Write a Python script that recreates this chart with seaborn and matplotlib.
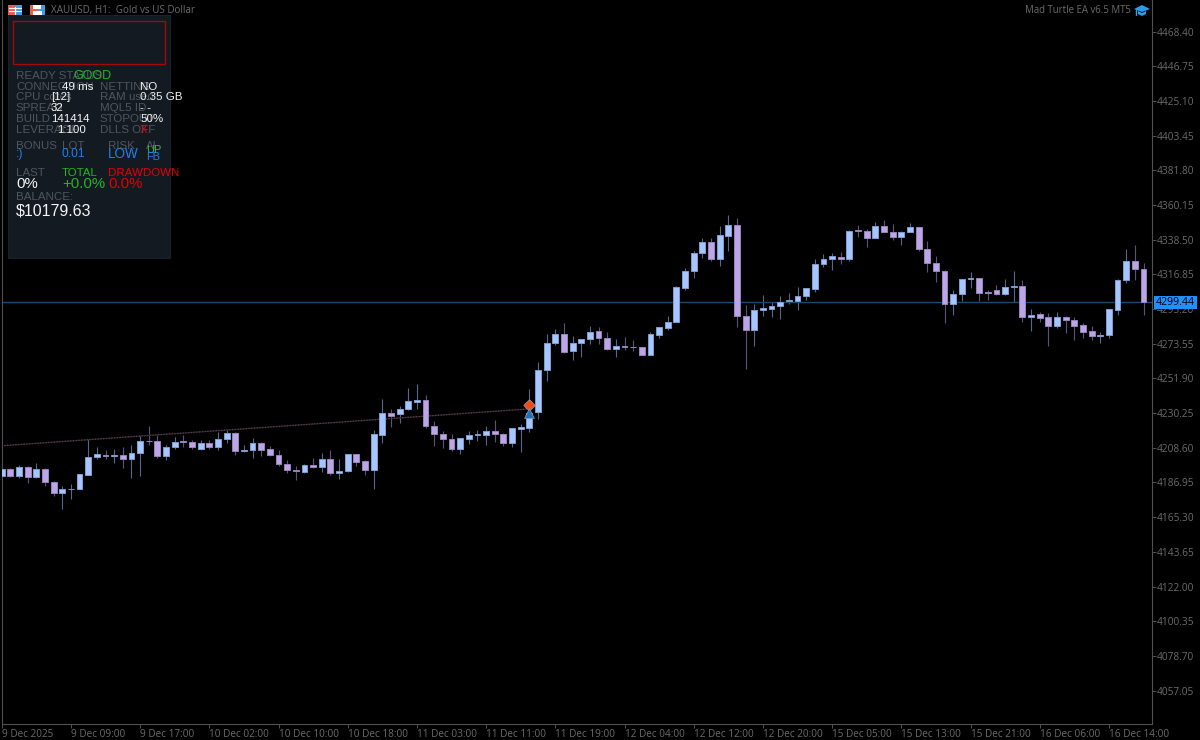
import matplotlib
matplotlib.use("Agg")
import matplotlib.pyplot as plt
from matplotlib.patches import Rectangle, Polygon
import numpy as np
import pandas as pd
import seaborn as sns

# H1 candles
opens = [
    4190.9, 4195.2, 4191.3, 4196.5, 4190.2, 4195.2, 4187.3, 4180.5, 4182.6, 4182.8,
    4191.9, 4203.1, 4204.4, 4203.6, 4204.4, 4201.7, 4205.4, 4213.1, 4212.9, 4203.4,
    4209.2, 4212.7, 4212.3, 4208.1, 4211.3, 4208.8, 4214.2, 4217.7, 4206.7, 4207.3,
    4211.9, 4207.7, 4204.0, 4198.6, 4195.0, 4193.6, 4197.9, 4196.9, 4201.5, 4193.0,
    4194.0, 4205.0, 4200.2, 4194.6, 4216.9, 4230.4, 4229.4, 4232.7, 4237.5, 4238.7,
    4222.5, 4217.5, 4214.0, 4208.1, 4214.4, 4216.3, 4216.9, 4219.4, 4217.5, 4211.7,
    4220.6, 4221.2, 4230.9, 4256.9, 4273.9, 4279.5, 4268.9, 4273.9, 4276.6, 4281.2,
    4277.0, 4270.2, 4272.0, 4271.6, 4271.4, 4266.8, 4279.3, 4283.3, 4287.4, 4308.6,
    4318.8, 4330.4, 4337.1, 4326.3, 4341.0, 4347.7, 4291.1, 4282.4, 4294.9, 4295.5,
    4297.2, 4300.1, 4300.5, 4303.2, 4308.0, 4323.2, 4326.7, 4327.9, 4326.5, 4344.4,
    4344.2, 4339.6, 4347.3, 4343.5, 4340.4, 4343.3, 4346.2, 4332.8, 4324.0, 4319.0,
    4298.2, 4304.9, 4313.8, 4314.7, 4305.7, 4306.8, 4304.9, 4308.8, 4309.7, 4290.5,
    4292.0, 4290.1, 4284.7, 4290.3, 4288.2, 4285.1, 4281.2, 4278.1, 4278.9, 4294.9,
    4313.4, 4325.3, 4320.5,
]
highs = [
    4196.0, 4196.0, 4197.9, 4197.1, 4199.4, 4196.0, 4187.8, 4184.6, 4186.3, 4192.5,
    4214.2, 4209.2, 4207.1, 4208.1, 4209.2, 4210.6, 4216.9, 4221.9, 4216.9, 4210.4,
    4215.2, 4216.5, 4213.6, 4213.3, 4213.3, 4218.3, 4219.6, 4218.3, 4210.4, 4215.0,
    4212.3, 4209.8, 4207.1, 4201.3, 4197.3, 4198.4, 4202.5, 4205.6, 4207.5, 4201.7,
    4205.0, 4205.0, 4201.3, 4219.6, 4239.1, 4233.1, 4234.6, 4245.8, 4248.3, 4241.4,
    4225.4, 4219.4, 4217.1, 4214.8, 4219.2, 4220.0, 4221.9, 4226.2, 4217.9, 4221.0,
    4223.7, 4245.0, 4262.1, 4279.5, 4282.9, 4286.6, 4278.5, 4276.6, 4284.7, 4284.1,
    4281.0, 4276.6, 4277.9, 4275.6, 4271.6, 4281.0, 4284.1, 4291.0, 4309.8, 4320.9,
    4331.7, 4339.8, 4339.8, 4346.9, 4354.1, 4352.1, 4297.8, 4298.6, 4304.0, 4299.9,
    4303.6, 4305.3, 4309.0, 4308.4, 4326.3, 4329.6, 4330.2, 4330.8, 4344.8, 4347.9,
    4345.2, 4349.6, 4350.6, 4348.5, 4343.7, 4348.9, 4346.4, 4337.5, 4328.6, 4319.6,
    4307.4, 4314.0, 4318.6, 4314.7, 4306.8, 4310.5, 4314.0, 4318.8, 4313.2, 4295.5,
    4293.4, 4293.0, 4293.2, 4290.7, 4290.1, 4286.6, 4284.9, 4280.8, 4295.3, 4314.0,
    4333.0, 4335.5, 4324.2,
]
lows = [
    4190.4, 4190.4, 4189.6, 4186.5, 4189.8, 4184.6, 4178.4, 4170.7, 4176.7, 4182.6,
    4191.5, 4201.7, 4201.5, 4199.0, 4195.9, 4189.6, 4190.7, 4210.4, 4202.1, 4201.3,
    4207.9, 4209.4, 4207.9, 4207.1, 4207.9, 4207.1, 4211.7, 4204.0, 4205.9, 4202.1,
    4203.4, 4203.4, 4197.1, 4192.8, 4188.2, 4193.0, 4195.7, 4193.6, 4191.5, 4189.4,
    4193.4, 4197.1, 4191.9, 4182.6, 4211.7, 4221.5, 4224.2, 4232.1, 4232.9, 4220.8,
    4209.6, 4208.6, 4206.3, 4204.6, 4211.1, 4213.1, 4210.6, 4212.1, 4210.0, 4208.8,
    4205.9, 4218.3, 4226.3, 4250.6, 4272.7, 4267.7, 4263.3, 4265.0, 4273.1, 4273.3,
    4269.5, 4265.0, 4269.9, 4268.9, 4266.6, 4266.6, 4277.2, 4282.0, 4287.4, 4307.3,
    4314.8, 4327.1, 4325.0, 4321.9, 4331.3, 4283.8, 4257.6, 4272.0, 4291.1, 4290.3,
    4289.0, 4298.6, 4294.9, 4300.7, 4305.9, 4321.3, 4319.8, 4323.6, 4325.0, 4340.0,
    4333.8, 4339.4, 4343.1, 4338.1, 4335.4, 4343.1, 4331.3, 4318.2, 4312.0, 4286.2,
    4291.2, 4300.1, 4308.6, 4300.1, 4301.1, 4303.8, 4303.8, 4299.9, 4287.0, 4281.4,
    4287.4, 4272.4, 4283.2, 4280.1, 4275.8, 4277.0, 4275.8, 4274.3, 4277.4, 4291.4,
    4311.7, 4313.2, 4291.8,
]
closes = [
    4195.4, 4191.1, 4196.5, 4190.2, 4195.2, 4187.3, 4180.5, 4182.6, 4183.0, 4192.1,
    4203.1, 4204.6, 4203.4, 4204.4, 4201.7, 4205.4, 4212.9, 4212.7, 4203.4, 4209.2,
    4212.5, 4212.1, 4208.8, 4211.3, 4208.8, 4214.2, 4217.9, 4206.9, 4207.3, 4211.9,
    4207.5, 4203.8, 4198.4, 4195.0, 4194.2, 4197.7, 4196.9, 4201.7, 4193.0, 4194.2,
    4205.0, 4200.0, 4194.8, 4217.1, 4230.6, 4228.7, 4233.1, 4237.7, 4238.7, 4222.5,
    4217.1, 4213.8, 4208.1, 4214.8, 4216.5, 4217.1, 4219.4, 4217.5, 4211.7, 4220.8,
    4221.5, 4230.4, 4256.9, 4274.1, 4279.5, 4268.7, 4274.1, 4276.6, 4280.6, 4277.0,
    4270.2, 4272.0, 4271.4, 4271.4, 4266.8, 4279.5, 4283.7, 4287.4, 4308.8, 4319.0,
    4330.4, 4337.1, 4326.3, 4341.2, 4347.7, 4291.1, 4282.4, 4294.9, 4295.7, 4297.4,
    4299.9, 4300.9, 4303.4, 4308.2, 4323.4, 4326.7, 4328.1, 4326.5, 4344.2, 4344.0,
    4339.6, 4347.3, 4343.3, 4340.4, 4343.5, 4346.2, 4332.5, 4323.8, 4318.8, 4298.2,
    4304.9, 4314.0, 4314.7, 4305.3, 4305.3, 4304.9, 4308.8, 4309.7, 4290.3, 4291.8,
    4289.7, 4284.7, 4290.3, 4288.2, 4284.9, 4281.0, 4278.1, 4279.1, 4295.1, 4313.6,
    4325.3, 4320.5, 4299.7,
]

price_ticks = [
    4468.40, 4446.75, 4425.10, 4403.45, 4381.80, 4360.15, 4338.50, 4316.85, 4295.20, 4273.55,
    4251.90, 4230.25, 4208.60, 4186.95, 4165.30, 4143.65, 4122.00, 4100.35, 4078.70, 4057.05,
]
time_labels = [
    "9 Dec 2025", "9 Dec 09:00", "9 Dec 17:00", "10 Dec 02:00", "10 Dec 10:00", "10 Dec 18:00",
    "11 Dec 03:00", "11 Dec 11:00", "11 Dec 19:00", "12 Dec 04:00", "12 Dec 12:00", "12 Dec 20:00",
    "15 Dec 05:00", "15 Dec 13:00", "15 Dec 21:00", "16 Dec 06:00", "16 Dec 14:00",
]
time_bars = [0, 8, 16, 24, 32, 40, 48, 56, 64, 72, 80, 88, 96, 104, 112, 120, 128]

last_price = 4299.44
trade_bars = [0.3, 61]
trade_prices = [4210.0, 4232.9]

BULL = "#a6c6ff"
BEAR = "#bca6e6"
GREY = "#6b6b6b"
PANEL_GREY = "#4f565d"
GREEN = "#22b424"
BLUE = "#2080e8"
RED = "#e80000"
WHITE = "#f4f4f4"

sns.set_theme(style="dark", rc={"axes.facecolor": "black", "figure.facecolor": "black",
                                "axes.edgecolor": "#505050", "axes.grid": False})
plt.rcParams["font.family"] = ["Open Sans", "DejaVu Sans"]

candles = pd.DataFrame({"open": opens, "high": highs, "low": lows, "close": closes})
candles["bar"] = np.arange(len(candles))
candles["side"] = np.where(candles["close"] >= candles["open"], "bull", "bear")
candles["bottom"] = candles[["open", "close"]].min(axis=1)
candles["size"] = (candles["close"] - candles["open"]).abs()

wicks = candles.melt(id_vars=["bar", "side"], value_vars=["high", "low"], value_name="price")

fig = plt.figure(figsize=(12, 7.4), dpi=100)
ax = fig.add_axes([1.5 / 1200, 16.4 / 740, 1150.5 / 1200, 724 / 740])

sns.lineplot(data=wicks, x="bar", y="price", units="bar", estimator=None, hue="side",
             palette={"bull": "#56678c", "bear": "#5e5176"}, lw=0.8, legend=False, ax=ax,
             solid_capstyle="butt")

# the bodies, one barplot per colour
for side, colour, edge in [("bull", BULL, "#7f9bd0"), ("bear", BEAR, "#9783bd")]:
    part = candles[candles["side"] == side]
    sns.barplot(data=part, x="bar", y="size", bottom=part["bottom"], native_scale=True,
                width=0.68, color=colour, saturation=1, errorbar=None, edgecolor=edge,
                linewidth=0.7, ax=ax, zorder=3)

ax.axhline(last_price, color="#1b4a6e", lw=1.0, zorder=2)

sns.lineplot(x=trade_bars, y=trade_prices, color="#10263c", lw=0.9, ax=ax, zorder=2)
sns.lineplot(x=trade_bars, y=trade_prices, color="#7c3232", lw=0.9, ls=(0, (1, 1.2)), ax=ax, zorder=2)
sns.scatterplot(x=[61], y=[4235.5], marker="D", s=34, color="#ee4a1c", edgecolor="#b0a090",
                linewidth=0.5, ax=ax, zorder=5)
sns.scatterplot(x=[61], y=[4230.3], marker="^", s=50, color="#1c72bc", edgecolor="#9098a0",
                linewidth=0.5, ax=ax, zorder=5)

ax.set_xlim((1.5 - 1.7) / 8.65, (1152 - 1.7) / 8.65)
ax.set_ylim(4488.37 - 0.6242 * 724, 4488.37)
ax.set_xlabel("")
ax.set_ylabel("")

ax.yaxis.tick_right()
ax.set_yticks(price_ticks)
ax.set_yticklabels([f"{p:.2f}" for p in price_ticks])
ax.set_xticks(time_bars)
ax.set_xticklabels(time_labels, ha="left")
ax.tick_params(axis="y", length=3, width=0.7, color="#505050", labelcolor=GREY, labelsize=7.3, pad=0.5,
               right=True, left=False)
ax.tick_params(axis="x", length=3, width=0.7, color="#505050", labelcolor=GREY, labelsize=7.2, pad=1,
               bottom=True)
ax.spines["top"].set_visible(False)
for name in ["left", "right", "bottom"]:
    ax.spines[name].set_linewidth(0.8)
    ax.spines[name].set_color("#505050")

# overlay in pixel coordinates for the terminal decorations
over = fig.add_axes([0, 0, 1, 1], facecolor="none")
over.set_xlim(0, 1200)
over.set_ylim(740, 0)
over.axis("off")


def put(x, y, text, color=PANEL_GREY, size=11, family="Liberation Sans", ha="left"):
    over.text(x, y + 0.8, text, color=color, fontsize=size * 0.72, family=family, ha=ha, va="center")


put(51, 10, "XAUUSD, H1:  Gold vs US Dollar", GREY, 9.9, "Open Sans")
put(1131, 10, "Mad Turtle EA v6.5 MT5", GREY, 9.7, "Open Sans", ha="right")

# toolbar icons
over.add_patch(Rectangle((8, 5), 7, 10, fc="#e8604c", ec="none"))
over.add_patch(Rectangle((15, 5), 7, 10, fc="#3f9ce6", ec="none"))
for yy in [8, 11]:
    over.plot([9, 21], [yy, yy], color="white", lw=0.8)
over.plot([15, 15], [7, 14], color="white", lw=0.8)
over.add_patch(Rectangle((30, 5), 7.5, 10, fc="#e8604c", ec="none"))
over.add_patch(Rectangle((37.5, 5), 7.5, 10, fc="#3f9ce6", ec="none"))
over.add_patch(Rectangle((33, 5), 8, 3.5, fc="white", ec="none"))
over.add_patch(Rectangle((33, 11), 9, 4, fc="white", ec="none"))
over.add_patch(Polygon([(1134, 9), (1142, 5), (1150, 9), (1142, 12)], fc="#2a9ee8", ec="none"))
over.add_patch(Polygon([(1138, 11), (1142, 13), (1146, 11), (1146, 14), (1142, 16), (1138, 14)],
                       fc="#2a9ee8", ec="none"))
over.plot([1135.5, 1135.5], [9, 15], color="#2a9ee8", lw=1)

# stats panel
over.add_patch(Rectangle((8, 15), 162, 243, fc="#141a22", ec="#1c222a", lw=0.7))
over.add_patch(Rectangle((12.5, 20.5), 152, 43.5, fc="none", ec="#a00a0a", lw=1.0))

put(16, 75, "READY STATUS", PANEL_GREY, 11.5)
put(73, 75.5, "GOOD", GREEN, 12.5)
rows = [
    (86, "CONNECTION", 62, "49 ms", "NETTING", "NO"),
    (96.5, "CPU cores", 51, "[12]", "RAM used", "0.35 GB"),
    (107, "SPREAD", 51, "32", "MQL5 ID", "- -"),
    (118, "BUILD", 51, "141414", "STOPOUT", "50%"),
    (129, "LEVERAGE", 57, "1:100", "DLLS OFF", ""),
]
for y, left, vx, val, right, rval in rows:
    put(16, y, left, PANEL_GREY, 11.5)
    put(vx, y, val, WHITE, 11.5)
    put(100, y, right, PANEL_GREY, 11.5)
    put(140, y, rval, WHITE, 11.5)
put(140, 129, "X", RED, 11.5)

put(16, 145, "BONUS", PANEL_GREY, 11.5)
put(62, 145, "LOT", PANEL_GREY, 11.5)
put(108, 145, "RISK", PANEL_GREY, 11.5)
put(146, 145, "AI", PANEL_GREY, 11.5)
put(16, 153.5, ":)", BLUE, 12)
put(62, 153.5, "0.01", BLUE, 12)
put(108, 153.5, "LOW", BLUE, 13.5)
put(146, 149.5, "UP", "#2ac42a", 11)
put(146, 156, "FB", BLUE, 11)

put(16, 172, "LAST", PANEL_GREY, 11.5)
put(62, 172, "TOTAL", GREEN, 11.5)
put(108, 172, "DRAWDOWN", RED, 11.5)
put(16, 183.5, "0%", WHITE, 15)
put(62, 183.5, "+0.0%", GREEN, 15)
put(108, 183.5, "0.0%", RED, 15)
put(16, 196.5, "BALANCE:", PANEL_GREY, 11.5)
put(16, 210, "$10179.63", WHITE, 16)

# last price box
over.add_patch(Rectangle((1154, 295.5), 43, 13.5, fc="#1e90ff", ec="none", zorder=6))
over.text(1175.5, 302.3, f"{last_price:.2f}", color="black", fontsize=7.6, family="Open Sans",
          ha="center", va="center", zorder=7)

fig.savefig("out.png", dpi=100, facecolor="black")
